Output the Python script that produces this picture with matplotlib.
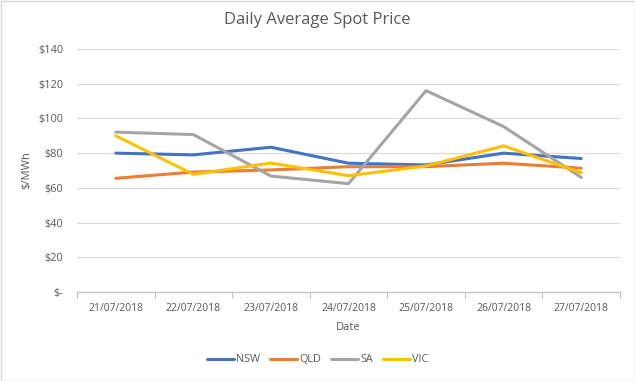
import matplotlib
matplotlib.use("Agg")
import matplotlib.pyplot as plt
from matplotlib.ticker import FixedLocator, FuncFormatter

dates = ["21/07/2018", "22/07/2018", "23/07/2018", "24/07/2018",
         "25/07/2018", "26/07/2018", "27/07/2018"]
nsw = [80.0, 79.0, 83.4, 74.2, 73.2, 80.0, 76.9]
qld = [65.5, 69.1, 70.3, 72.2, 72.2, 74.2, 71.3]
sa = [92.1, 90.7, 66.8, 62.4, 116.0, 95.3, 66.0]
vic = [90.0, 67.8, 74.3, 67.0, 72.6, 84.2, 68.7]
series_names = ["NSW", "QLD", "SA", "VIC"]
colors = ["#4472C4", "#ED7D31", "#A5A5A5", "#FFC000"]
yticks = [0, 20, 40, 60, 80, 100, 120, 140]

plt.rcParams['font.family'] = ['Open Sans', 'DejaVu Sans']
txt = "#595959"

fig = plt.figure(figsize=(6.35, 3.81), dpi=100)
ax = fig.add_axes([77/635, 1-292/381, 543/635, (292-49)/381])

x = list(range(len(dates)))
for name, vals, c in zip(series_names, [nsw, qld, sa, vic], colors):
    ax.plot(x, vals, color=c, lw=2.2, label=name, solid_capstyle='round', solid_joinstyle='round')

ax.set_xlim(-0.5, len(dates) - 0.5)
ax.set_ylim(0, 140)
ax.yaxis.set_major_locator(FixedLocator(yticks))
ax.yaxis.set_major_formatter(FuncFormatter(lambda v, p: "$-" if v == 0 else f"${int(v)}"))
ax.set_xticks(x)
ax.set_xticklabels(dates)
ax.set_xticks([i - 0.5 for i in range(len(dates) + 1)], minor=True)
ax.tick_params(axis='x', which='major', length=0, labelsize=7.5, colors=txt, pad=8)
ax.tick_params(axis='x', which='minor', length=4, color="#BFBFBF", width=0.8)
ax.tick_params(axis='y', length=0, labelsize=7.8, colors=txt, pad=10)
ax.grid(axis='y', color="#D9D9D9", lw=0.8)
ax.set_axisbelow(True)
for s in ['top', 'right', 'left']:
    ax.spines[s].set_visible(False)
ax.spines['bottom'].set_color("#BFBFBF")
ax.spines['bottom'].set_linewidth(0.8)

ax.set_xlabel("Date", fontsize=8, color=txt, labelpad=6)
ax.set_ylabel("$/MWh", fontsize=8, color=txt, labelpad=4)
fig.text(0.5, 1 - 20/381, "Daily Average Spot Price", ha='center', va='center',
         fontsize=12, color=txt)

leg = fig.legend(loc='center', bbox_to_anchor=(0.5, 1 - 360/381), ncol=4, frameon=False,
                 fontsize=7.8, handlelength=2.5, handletextpad=0.2, columnspacing=0.9)
for t in leg.get_texts():
    t.set_color(txt)

fig.patches.append(plt.Rectangle((0.5/635, 0.5/381), 1 - 1/635, 1 - 1/381, transform=fig.transFigure,
                                 fill=False, edgecolor="#D9D9D9", lw=1))
fig.savefig("out.png", dpi=100)
